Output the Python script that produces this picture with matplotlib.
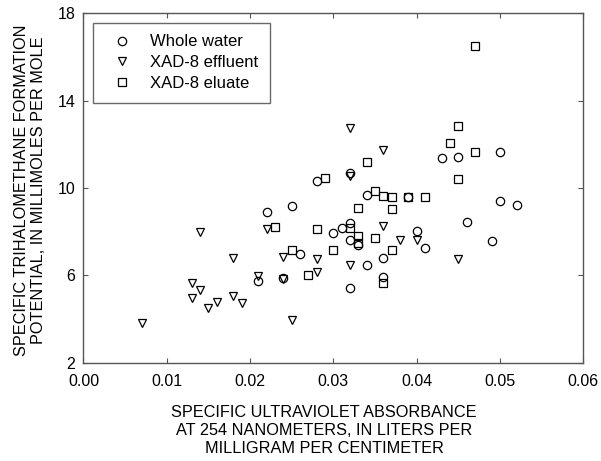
import matplotlib
matplotlib.use('Agg')
import matplotlib.pyplot as plt

plt.rcParams['font.family'] = ['Liberation Sans', 'DejaVu Sans']

# Whole water (circles)
whole_x = [0.021, 0.024, 0.022, 0.025, 0.026, 0.028, 0.030, 0.031, 0.032, 0.032,
           0.032, 0.032, 0.034, 0.034, 0.036, 0.036, 0.039, 0.040, 0.041, 0.043,
           0.045, 0.046, 0.049, 0.050, 0.050, 0.052, 0.033]
whole_y = [5.76, 5.86, 8.88, 9.19, 6.96, 10.32, 7.93, 8.15, 8.42, 7.60,
           5.44, 10.67, 9.67, 6.46, 6.78, 5.92, 9.60, 8.05, 7.24, 11.39,
           11.40, 8.43, 7.57, 11.63, 9.40, 9.22, 7.41]

# XAD-8 effluent (down triangles)
effluent_x = [0.007, 0.013, 0.013, 0.014, 0.014, 0.015, 0.016, 0.018, 0.018, 0.019,
              0.021, 0.022, 0.024, 0.024, 0.025, 0.028, 0.028, 0.032, 0.032, 0.032,
              0.036, 0.036, 0.038, 0.040, 0.045]
effluent_y = [3.80, 5.63, 4.95, 7.97, 5.35, 4.52, 4.79, 6.78, 5.07, 4.75,
              5.97, 8.11, 5.83, 6.83, 3.96, 6.75, 6.17, 12.76, 10.56, 6.47,
              11.74, 8.26, 7.64, 7.60, 6.75]

# XAD-8 eluate (squares)
eluate_x = [0.023, 0.025, 0.027, 0.028, 0.029, 0.030, 0.032, 0.033, 0.033, 0.033,
            0.034, 0.035, 0.035, 0.036, 0.036, 0.037, 0.037, 0.037, 0.039, 0.041,
            0.044, 0.045, 0.045, 0.047, 0.047]
eluate_y = [8.20, 7.14, 6.02, 8.14, 10.44, 7.14, 8.17, 9.07, 7.80, 7.46,
            11.18, 9.88, 7.71, 9.65, 5.67, 9.60, 9.04, 7.16, 9.60, 9.60,
            12.07, 12.85, 10.41, 11.63, 16.51]

x_ticks = [0.00, 0.01, 0.02, 0.03, 0.04, 0.05, 0.06]
y_ticks = [2, 6, 10, 14, 18]

fig = plt.figure(figsize=(6.01, 4.61), dpi=100)
ax = fig.add_axes([0.1389, 0.2132, 0.8316, 0.7579])

style = dict(linestyle='none', markerfacecolor='none', markeredgecolor='black',
             markeredgewidth=0.9)
ax.plot(whole_x, whole_y, marker='o', markersize=6, label='Whole water', **style)
ax.plot(effluent_x, effluent_y, marker='v', markersize=6, label='XAD-8 effluent', **style)
ax.plot(eluate_x, eluate_y, marker='s', markersize=5.3, label='XAD-8 eluate', **style)

ax.set_xlim(0, 0.06)
ax.set_ylim(2, 18)
ax.set_xticks(x_ticks)
ax.set_xticklabels([f'{v:.2f}' for v in x_ticks])
ax.set_yticks(y_ticks)
ax.tick_params(direction='in', length=3.6, width=0.8, color='#555555',
               top=True, right=True, labelsize=11.5)
ax.tick_params(axis='x', pad=8)
ax.tick_params(axis='y', pad=6)
for sp in ax.spines.values():
    sp.set_color('#555555')
    sp.set_linewidth(1.0)

leg = ax.legend(loc='upper left', bbox_to_anchor=(0.0196, 0.973), borderaxespad=0,
                fontsize=12, frameon=True, fancybox=False, borderpad=0.7,
                handlelength=2.0, handletextpad=0.7, labelspacing=0.35)
leg.get_frame().set_edgecolor('#444444')
leg.get_frame().set_linewidth(1.0)

fig.text(324 / 601, 1 - 405 / 461,
         'SPECIFIC ULTRAVIOLET ABSORBANCE\nAT 254 NANOMETERS, IN LITERS PER\nMILLIGRAM PER CENTIMETER',
         ha='center', va='top', fontsize=11.7, linespacing=1.25)
fig.text(30 / 601, 1 - 190 / 461,
         'SPECIFIC TRIHALOMETHANE FORMATION\nPOTENTIAL, IN MILLIMOLES PER MOLE',
         ha='center', va='center', rotation=90, fontsize=11.7, linespacing=1.2)

fig.savefig('out.png', dpi=100)
